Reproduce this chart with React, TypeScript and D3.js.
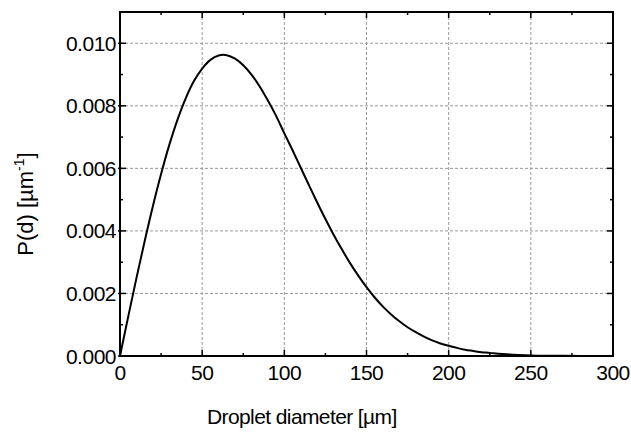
import React from "react";
import * as d3 from "d3";

const diameters = [
  0, 5, 10, 15, 20, 25, 30, 35, 40, 45, 50, 55, 60, 65, 70, 75, 80, 85, 90, 95,
  100, 105, 110, 115, 120, 125, 130, 135, 140, 145, 150, 155, 160, 165, 170, 175,
  180, 185, 190, 195, 200, 205, 210, 215, 220, 225, 230, 235, 240, 250, 260, 270,
  280, 290, 300,
];
const probability = [
  0, 0.00126, 0.00249, 0.00367, 0.00479, 0.00582, 0.00675, 0.00756, 0.00824,
  0.00879, 0.00919, 0.00947, 0.00961, 0.00962, 0.00951, 0.0093, 0.009, 0.00862,
  0.00817, 0.00768, 0.00712, 0.00658, 0.00602, 0.00546, 0.00491, 0.00438,
  0.00388, 0.00341, 0.00297, 0.00257, 0.0022, 0.00187, 0.00158, 0.00133,
  0.00111, 0.00092, 0.00076, 0.00062, 0.0005, 0.0004, 0.00033, 0.00026, 0.0002,
  0.00016, 0.00012, 0.0001, 0.00007, 0.00006, 0.00004, 0.00002, 0.00001,
  0.000006, 0.000003, 0.000002, 0.000001,
];
const xTicks = [0, 50, 100, 150, 200, 250, 300];
const xMinor = [25, 75, 125, 175, 225, 275];
const yTicks = [0, 0.002, 0.004, 0.006, 0.008, 0.01];
const yMinor = [0.001, 0.003, 0.005, 0.007, 0.009];
const xTitle = "Droplet diameter [µm]";

const W = 631;
const H = 433;
const L = 120;
const R = 613;
const T = 12;
const B = 356;
const FONT = "'Liberation Sans', Arial, sans-serif";

export default function App() {
  const x = d3.scaleLinear().domain([0, 300]).range([L, R]);
  const y = d3.scaleLinear().domain([0, 0.011]).range([B, T]);
  const line = d3
    .line<number>()
    .x((_, i) => x(diameters[i]))
    .y((v) => y(v))
    .curve(d3.curveCatmullRom.alpha(0.5));

  const MAJ = 6;
  const MIN = 3;

  return (
    <svg
      width={W}
      height={H}
      style={{ position: "absolute", left: 0, top: 0, background: "#fff" }}
      fontFamily={FONT}
    >
      <rect x={0} y={0} width={W} height={H} fill="#fff" />
      {/* grid */}
      <g stroke="#9a9a9a" strokeWidth={1} strokeDasharray="3,2">
        {xTicks.slice(1, -1).map((t) => (
          <line key={"gx" + t} x1={x(t)} x2={x(t)} y1={T} y2={B} />
        ))}
        {yTicks.slice(1).map((t) => (
          <line key={"gy" + t} x1={L} x2={R} y1={y(t)} y2={y(t)} />
        ))}
      </g>
      {/* curve */}
      <path
        d={line(probability) || ""}
        fill="none"
        stroke="#000"
        strokeWidth={2}
        strokeLinejoin="round"
      />
      {/* ticks */}
      <g stroke="#000" strokeWidth={1.5}>
        {xTicks.map((t) => (
          <g key={"xt" + t}>
            <line x1={x(t)} x2={x(t)} y1={B} y2={B - MAJ} />
            <line x1={x(t)} x2={x(t)} y1={T} y2={T + MAJ} />
          </g>
        ))}
        {xMinor.map((t) => (
          <g key={"xm" + t}>
            <line x1={x(t)} x2={x(t)} y1={B} y2={B - MIN} />
            <line x1={x(t)} x2={x(t)} y1={T} y2={T + MIN} />
          </g>
        ))}
        {yTicks.map((t) => (
          <g key={"yt" + t}>
            <line x1={L - 2} x2={L + MAJ} y1={y(t)} y2={y(t)} />
            <line x1={R} x2={R - MAJ} y1={y(t)} y2={y(t)} />
          </g>
        ))}
        {yMinor.map((t) => (
          <g key={"ym" + t}>
            <line x1={L} x2={L + MIN} y1={y(t)} y2={y(t)} />
            <line x1={R} x2={R - MIN} y1={y(t)} y2={y(t)} />
          </g>
        ))}
      </g>
      {/* frame */}
      <rect
        x={L}
        y={T}
        width={R - L}
        height={B - T}
        fill="none"
        stroke="#000"
        strokeWidth={2}
      />
      {/* tick labels */}
      <g fontSize={21} fill="#000" letterSpacing={-0.5}>
        {xTicks.map((t) => (
          <text key={"xl" + t} x={x(t)} y={380} textAnchor="middle">
            {String(t)}
          </text>
        ))}
        {yTicks.map((t) => (
          <text key={"yl" + t} x={116} y={y(t) + 7.5} textAnchor="end">
            {d3.format(".3f")(t)}
          </text>
        ))}
      </g>
      {/* axis titles */}
      <text x={207} y={424} fontSize={21} letterSpacing={-0.6} fill="#000">
        {xTitle}
      </text>
      <text
        transform={`translate(33,${204}) rotate(-90)`}
        textAnchor="middle"
        fontSize={22}
        fill="#000"
      >
        P(d) [µm
        <tspan fontSize={14} dy={-9}>
          -1
        </tspan>
        <tspan dy={9}>]</tspan>
      </text>
    </svg>
  );
}
